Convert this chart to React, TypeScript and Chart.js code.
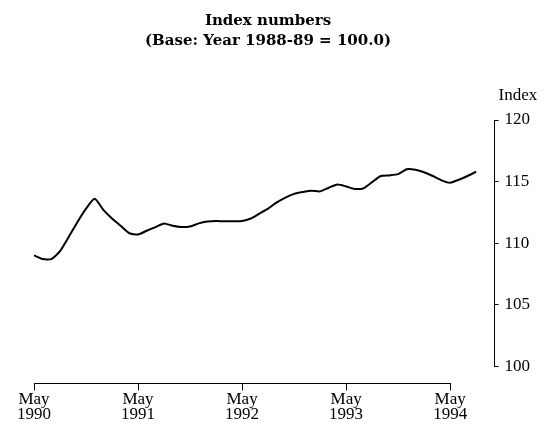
import React, { useEffect, useRef } from "react";
import { Chart, registerables } from "chart.js";

Chart.register(...registerables);

// Monthly index values, May 1990 (month 0) to Aug 1994 (month 51)
const indexValues = [
  109.0, 108.7, 108.7, 109.35, 110.5, 111.7, 112.8, 113.6, 112.7, 112.0, 111.4, 110.8,
  110.7, 111.0, 111.3, 111.6, 111.4, 111.3, 111.35, 111.6, 111.75, 111.8, 111.77, 111.77,
  111.8, 112.0, 112.4, 112.8, 113.3, 113.7, 114.0, 114.15, 114.25, 114.2, 114.5, 114.75,
  114.6, 114.4, 114.45, 114.95, 115.45, 115.5, 115.6, 116.0, 115.95, 115.75, 115.45, 115.1,
  114.9, 115.15, 115.45, 115.8,
];

const xTickMonths = [0, 12, 24, 36, 48];
const xTickLabels = [
  ["May", "1990"],
  ["May", "1991"],
  ["May", "1992"],
  ["May", "1993"],
  ["May", "1994"],
];
const yTicks = [100, 105, 110, 115, 120];
const titleLines = ["Index numbers", "(Base: Year 1988-89 = 100.0)"];
const yAxisLabel = "Index";

const SERIF = "'Liberation Serif', 'Times New Roman', serif";

export default function App() {
  const canvasRef = useRef<HTMLCanvasElement | null>(null);

  useEffect(() => {
    if (!canvasRef.current) return;
    const points = indexValues.map((v, i) => ({ x: i, y: v }));

    const axesPlugin = {
      id: "axesPlugin",
      afterDraw(chart: any) {
        const ctx = chart.ctx;
        const xs = chart.scales.x;
        const ys = chart.scales.y;
        const area = chart.chartArea;
        ctx.save();
        ctx.strokeStyle = "#000";
        ctx.lineWidth = 1;
        // x axis line
        const xl = Math.round(xs.getPixelForValue(xTickMonths[0])) + 0.5;
        const xr = Math.round(xs.getPixelForValue(xTickMonths[xTickMonths.length - 1])) + 0.5;
        const yb = Math.round(area.bottom) + 0.5;
        ctx.beginPath();
        ctx.moveTo(xl, yb);
        ctx.lineTo(xr, yb);
        ctx.stroke();
        // y axis line
        const xa = Math.round(area.right) + 0.5;
        ctx.beginPath();
        ctx.moveTo(xa, Math.round(ys.getPixelForValue(yTicks[0])) + 0.5);
        ctx.lineTo(xa, Math.round(ys.getPixelForValue(yTicks[yTicks.length - 1])) + 0.5);
        ctx.stroke();
        // titles
        ctx.fillStyle = "#000";
        ctx.textAlign = "center";
        ctx.textBaseline = "middle";
        ctx.font = "bold 15px 'DejaVu Serif', serif";
        ctx.fillText(titleLines[0], 260, 13);
        ctx.fillText(titleLines[1], 260, 33);
        // y axis label
        ctx.font = "17px " + SERIF;
        ctx.textAlign = "left";
        ctx.fillText(yAxisLabel, area.right + 5, 88);
        ctx.restore();
      },
    };

    const chart = new Chart(canvasRef.current, {
      type: "line",
      data: {
        datasets: [
          {
            data: points,
            borderColor: "#000",
            borderWidth: 2,
            pointRadius: 0,
            tension: 0.2,
            fill: false,
          },
        ],
      },
      options: {
        animation: false,
        responsive: true,
        maintainAspectRatio: false,
        layout: { padding: { left: 26, right: 9, top: 112, bottom: 8 } },
        plugins: {
          legend: { display: false },
          tooltip: { enabled: false },
          title: { display: false },
        },
        scales: {
          x: {
            type: "linear",
            min: 0,
            max: 53,
            border: { display: false },
            grid: { drawOnChartArea: false, drawTicks: true, tickLength: 7, color: "#000", lineWidth: 1 },
            afterBuildTicks: (scale: any) => {
              scale.ticks = xTickMonths.map((v) => ({ value: v }));
            },
            ticks: {
              color: "#000",
              padding: 1,
              maxRotation: 0,
              autoSkip: false,
              font: { family: SERIF, size: 17, lineHeight: 0.9 },
              callback: (value: any) => {
                const idx = xTickMonths.indexOf(Number(value));
                return idx >= 0 ? xTickLabels[idx] : "";
              },
            },
          },
          y: {
            type: "linear",
            position: "right",
            min: 98.6,
            max: 120,
            border: { display: false },
            grid: { drawOnChartArea: false, drawTicks: true, tickLength: 5, color: "#000", lineWidth: 1 },
            afterBuildTicks: (scale: any) => {
              scale.ticks = yTicks.map((v) => ({ value: v }));
            },
            ticks: {
              color: "#000",
              padding: 6,
              font: { family: SERIF, size: 17 },
              callback: (value: any) => String(value),
            },
          },
        },
      },
      plugins: [axesPlugin],
    });

    return () => chart.destroy();
  }, []);

  return (
    <div style={{ position: "relative", width: 537, height: 423 }}>
      <canvas ref={canvasRef} />
    </div>
  );
}
